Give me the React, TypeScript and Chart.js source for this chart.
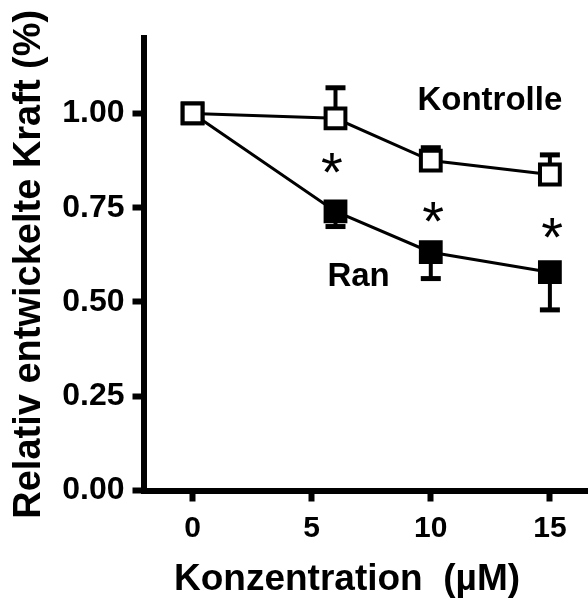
import React, { useEffect, useRef } from 'react';
import { Chart, registerables } from 'chart.js';

Chart.register(...registerables);

// ---- data ----
const concentrations = [0, 6, 10, 15];
const kontrolleValues = [1.0, 0.987, 0.875, 0.838];
const kontrolleErrors = [0, 0.081, 0.034, 0.052];
const ranValues = [1.0, 0.74, 0.632, 0.579];
const ranErrors = [0, 0.04, 0.07, 0.1];
const xTickValues = [0, 5, 10, 15];
const yTickValues = [0, 0.25, 0.5, 0.75, 1.0];
const seriesNames = ['Kontrolle', 'Ran'];
const xAxisTitle = 'Konzentration  (µM)';
const yAxisTitle = 'Relativ entwickelte Kraft (%)';
// significance asterisks (concentration, value)
const asteriskX = [5.85, 10.1, 15.1];
const asteriskY = [0.868, 0.738, 0.696];
// series name labels (concentration, value)
const seriesLabelX = [12.48, 6.97];
const seriesLabelY = [1.034, 0.566];

const FONT = '"Liberation Sans", Arial, Helvetica, sans-serif';

const errorBarPlugin = {
  id: 'errorBars',
  beforeDatasetsDraw(chart: any) {
    const { ctx } = chart;
    const xs = chart.scales.x;
    const ys = chart.scales.y;
    const sets = [
      { vals: kontrolleValues, errs: kontrolleErrors, dir: 1 },
      { vals: ranValues, errs: ranErrors, dir: -1 },
    ];
    ctx.save();
    ctx.strokeStyle = '#000';
    sets.forEach((s) => {
      s.vals.forEach((v, i) => {
        const e = s.errs[i];
        if (!e) return;
        const px = xs.getPixelForValue(concentrations[i]);
        const py = ys.getPixelForValue(v);
        const pe = ys.getPixelForValue(v + s.dir * e);
        ctx.lineWidth = 4;
        ctx.beginPath();
        ctx.moveTo(px, py);
        ctx.lineTo(px, pe);
        ctx.stroke();
        ctx.lineWidth = 5;
        ctx.beginPath();
        ctx.moveTo(px - 10, pe);
        ctx.lineTo(px + 10, pe);
        ctx.stroke();
      });
    });
    ctx.restore();
  },
};

const annotationPlugin = {
  id: 'annotations',
  afterDraw(chart: any) {
    const { ctx } = chart;
    const xs = chart.scales.x;
    const ys = chart.scales.y;
    ctx.save();
    ctx.fillStyle = '#000';
    // series name labels
    ctx.font = `bold 33px ${FONT}`;
    ctx.textAlign = 'center';
    ctx.textBaseline = 'middle';
    seriesNames.forEach((name, i) => {
      ctx.fillText(name, xs.getPixelForValue(seriesLabelX[i]), ys.getPixelForValue(seriesLabelY[i]));
    });
    // asterisks, centred on their glyph box
    ctx.font = `normal 56px ${FONT}`;
    ctx.textBaseline = 'alphabetic';
    const m = ctx.measureText('*');
    const asc = m.actualBoundingBoxAscent;
    const desc = m.actualBoundingBoxDescent;
    asteriskX.forEach((ax, i) => {
      const cx = xs.getPixelForValue(ax);
      const cy = ys.getPixelForValue(asteriskY[i]);
      ctx.fillText('*', cx, cy + (asc - desc) / 2);
    });
    // x-axis title
    ctx.font = `bold 37px ${FONT}`;
    ctx.textBaseline = 'middle';
    ctx.textAlign = 'center';
    ctx.fillText(xAxisTitle, 347, 580);
    ctx.restore();
  },
};

export default function App() {
  const ref = useRef<HTMLCanvasElement | null>(null);

  useEffect(() => {
    document.body.style.margin = '0';
    const canvas = ref.current;
    if (!canvas) return;
    const chart = new Chart(canvas, {
      type: 'line',
      data: {
        datasets: [
          {
            label: seriesNames[0],
            data: concentrations.map((x, i) => ({ x, y: kontrolleValues[i] })),
            borderColor: '#000',
            borderWidth: 3,
            pointStyle: 'rect',
            pointRadius: 14,
            pointBorderWidth: 4,
            pointBackgroundColor: '#fff',
            pointBorderColor: '#000',
            clip: false,
            order: 0,
          },
          {
            label: seriesNames[1],
            data: concentrations.map((x, i) => ({ x, y: ranValues[i] })),
            borderColor: '#000',
            borderWidth: 3,
            pointStyle: 'rect',
            pointRadius: 14,
            pointBorderWidth: 4,
            pointBackgroundColor: '#000',
            pointBorderColor: '#000',
            clip: false,
            order: 1,
          },
        ],
      },
      options: {
        responsive: false,
        animation: false,
        devicePixelRatio: 1,
        layout: { autoPadding: false, padding: { top: 38, left: 0, right: 0, bottom: 0 } },
        plugins: {
          legend: { display: false },
          tooltip: { enabled: false },
        },
        scales: {
          x: {
            type: 'linear',
            min: -2.06,
            max: 16.6,
            afterBuildTicks: (scale: any) => {
              scale.ticks = xTickValues.map((v) => ({ value: v }));
            },
            afterFit: (scale: any) => {
              scale.height = 109.5;
              scale.paddingLeft = 0;
              scale.paddingRight = 0;
            },
            grid: {
              display: true,
              drawOnChartArea: false,
              drawTicks: true,
              tickLength: 11,
              tickWidth: 6,
              tickColor: '#000',
            },
            border: { display: true, width: 6, color: '#000' },
            ticks: {
              color: '#000',
              padding: 9,
              maxRotation: 0,
              font: { family: FONT, size: 30, weight: 'bold' },
              callback: (v: any) => String(v),
            },
          },
          y: {
            type: 'linear',
            min: 0,
            max: 1.2,
            afterBuildTicks: (scale: any) => {
              scale.ticks = yTickValues.map((v) => ({ value: v }));
            },
            afterFit: (scale: any) => {
              scale.width = 143.5;
              scale.paddingTop = 0;
              scale.paddingBottom = 0;
            },
            grid: {
              display: true,
              drawOnChartArea: false,
              drawTicks: true,
              tickLength: 11,
              tickWidth: 6,
              tickColor: '#000',
            },
            border: { display: true, width: 6, color: '#000' },
            ticks: {
              color: '#000',
              padding: 8,
              font: { family: FONT, size: 32, weight: 'bold' },
              callback: (v: any) => Number(v).toFixed(2),
            },
            title: {
              display: true,
              text: yAxisTitle,
              color: '#000',
              padding: { top: 7, bottom: 0 },
              font: { family: FONT, size: 38, weight: 'bold' },
            },
          },
        },
      },
      plugins: [errorBarPlugin, annotationPlugin],
    } as any);
    return () => chart.destroy();
  }, []);

  return (
    <div style={{ width: 588, height: 600, background: '#fff' }}>
      <canvas ref={ref} width={588} height={600} style={{ display: 'block' }} />
    </div>
  );
}
